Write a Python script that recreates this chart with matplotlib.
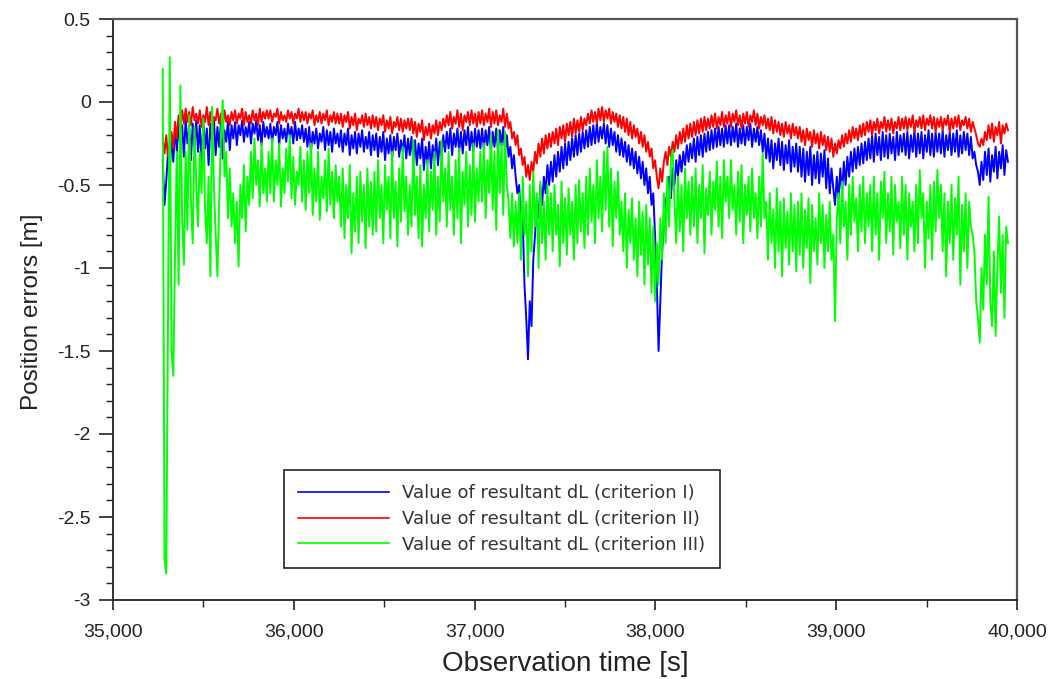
import numpy as np
import matplotlib
matplotlib.use("Agg")
import matplotlib.pyplot as plt
from matplotlib.ticker import MultipleLocator, FuncFormatter

plt.rcParams['font.family'] = ['Liberation Sans', 'DejaVu Sans']
plt.rcParams['axes.unicode_minus'] = False

# observation epochs [s], sampled evenly over the plotted span (20 values per row below)
t_start, t_end, n_pts = 35275, 39950, 480
time_s = np.linspace(t_start, t_end, n_pts)

# criterion I (blue)
dl_crit1 = [
    -0.35, -0.62, -0.48, -0.30, -0.42, -0.20, -0.36, -0.15, -0.30, -0.12, -0.28, -0.14, -0.33, -0.10, -0.25, -0.16, -0.35, -0.13, -0.27, -0.11,
    -0.30, -0.14, -0.36, -0.12, -0.28, -0.16, -0.38, -0.13, -0.25, -0.10, -0.32, -0.15, -0.27, -0.12, -0.34, -0.17, -0.24, -0.11, -0.29, -0.14,
    -0.22, -0.12, -0.26, -0.14, -0.20, -0.11, -0.24, -0.15, -0.21, -0.12, -0.25, -0.13, -0.19, -0.11, -0.23, -0.14, -0.26, -0.12, -0.21, -0.15,
    -0.22, -0.13, -0.25, -0.15, -0.20, -0.12, -0.26, -0.14, -0.22, -0.16, -0.24, -0.13, -0.21, -0.15, -0.25, -0.12, -0.23, -0.16, -0.22, -0.14,
    -0.24, -0.16, -0.27, -0.15, -0.30, -0.18, -0.25, -0.16, -0.28, -0.19, -0.24, -0.15, -0.29, -0.17, -0.26, -0.18, -0.30, -0.16, -0.25, -0.19,
    -0.27, -0.17, -0.30, -0.19, -0.26, -0.16, -0.32, -0.20, -0.28, -0.18, -0.31, -0.19, -0.27, -0.17, -0.30, -0.21, -0.28, -0.18, -0.32, -0.20,
    -0.29, -0.19, -0.33, -0.21, -0.30, -0.18, -0.35, -0.22, -0.31, -0.20, -0.34, -0.21, -0.29, -0.19, -0.33, -0.23, -0.30, -0.20, -0.34, -0.22,
    -0.32, -0.21, -0.36, -0.23, -0.38, -0.25, -0.34, -0.22, -0.41, -0.27, -0.37, -0.24, -0.40, -0.26, -0.35, -0.22, -0.38, -0.24, -0.33, -0.20,
    -0.30, -0.18, -0.28, -0.16, -0.32, -0.19, -0.27, -0.16, -0.30, -0.18, -0.31, -0.17, -0.26, -0.15, -0.29, -0.18, -0.30, -0.16, -0.27, -0.17,
    -0.28, -0.16, -0.29, -0.17, -0.26, -0.15, -0.30, -0.18, -0.27, -0.16, -0.29, -0.17, -0.26, -0.15, -0.30, -0.20, -0.33, -0.27, -0.40, -0.32,
    -0.45, -0.55, -0.50, -0.75, -0.70, -1.10, -1.30, -1.55, -1.20, -1.35, -0.95, -0.80, -0.60, -0.70, -0.50, -0.62, -0.45, -0.55, -0.38, -0.50,
    -0.36, -0.48, -0.32, -0.45, -0.30, -0.42, -0.27, -0.40, -0.25, -0.38, -0.24, -0.35, -0.22, -0.33, -0.20, -0.32, -0.19, -0.30, -0.18, -0.28,
    -0.17, -0.27, -0.15, -0.26, -0.14, -0.25, -0.13, -0.24, -0.15, -0.22, -0.13, -0.25, -0.14, -0.27, -0.16, -0.26, -0.18, -0.30, -0.20, -0.32,
    -0.22, -0.33, -0.24, -0.36, -0.26, -0.38, -0.28, -0.40, -0.30, -0.43, -0.33, -0.46, -0.36, -0.50, -0.40, -0.55, -0.45, -0.62, -0.55, -0.80,
    -1.10, -1.50, -1.20, -0.90, -0.75, -0.60, -0.55, -0.45, -0.58, -0.40, -0.50, -0.35, -0.45, -0.32, -0.42, -0.30, -0.38, -0.26, -0.36, -0.25,
    -0.34, -0.22, -0.36, -0.21, -0.32, -0.20, -0.33, -0.19, -0.30, -0.18, -0.29, -0.17, -0.28, -0.16, -0.27, -0.15, -0.26, -0.16, -0.27, -0.14,
    -0.25, -0.14, -0.26, -0.15, -0.24, -0.13, -0.27, -0.16, -0.25, -0.14, -0.26, -0.15, -0.23, -0.13, -0.27, -0.16, -0.24, -0.15, -0.26, -0.17,
    -0.30, -0.19, -0.34, -0.22, -0.36, -0.23, -0.40, -0.25, -0.35, -0.22, -0.38, -0.24, -0.41, -0.26, -0.37, -0.23, -0.42, -0.27, -0.39, -0.25,
    -0.42, -0.27, -0.45, -0.28, -0.48, -0.30, -0.44, -0.27, -0.50, -0.32, -0.46, -0.30, -0.49, -0.31, -0.45, -0.29, -0.52, -0.34, -0.55, -0.40,
    -0.52, -0.62, -0.45, -0.58, -0.40, -0.55, -0.36, -0.50, -0.33, -0.45, -0.30, -0.42, -0.28, -0.40, -0.27, -0.38, -0.25, -0.37, -0.24, -0.35,
    -0.22, -0.34, -0.20, -0.36, -0.19, -0.32, -0.21, -0.35, -0.18, -0.33, -0.20, -0.34, -0.19, -0.31, -0.21, -0.35, -0.18, -0.32, -0.20, -0.30,
    -0.19, -0.32, -0.18, -0.34, -0.20, -0.30, -0.17, -0.33, -0.19, -0.31, -0.18, -0.34, -0.20, -0.30, -0.17, -0.32, -0.19, -0.33, -0.18, -0.30,
    -0.19, -0.31, -0.17, -0.33, -0.20, -0.29, -0.18, -0.32, -0.19, -0.30, -0.17, -0.33, -0.20, -0.31, -0.18, -0.29, -0.19, -0.32, -0.21, -0.34,
    -0.30, -0.38, -0.42, -0.50, -0.36, -0.47, -0.30, -0.44, -0.28, -0.48, -0.32, -0.42, -0.27, -0.46, -0.30, -0.40, -0.26, -0.44, -0.29, -0.36,
]

# criterion II (red)
dl_crit2 = [
    -0.22, -0.31, -0.20, -0.33, -0.25, -0.18, -0.28, -0.12, -0.22, -0.08, -0.16, -0.05, -0.13, -0.04, -0.12, -0.06, -0.14, -0.03, -0.11, -0.07,
    -0.13, -0.05, -0.15, -0.08, -0.12, -0.03, -0.14, -0.06, -0.16, -0.09, -0.11, -0.04, -0.13, -0.07, -0.15, -0.05, -0.12, -0.08, -0.14, -0.06,
    -0.11, -0.05, -0.13, -0.07, -0.10, -0.04, -0.14, -0.06, -0.12, -0.08, -0.13, -0.05, -0.11, -0.07, -0.14, -0.04, -0.12, -0.06, -0.10, -0.05,
    -0.10, -0.05, -0.12, -0.07, -0.09, -0.04, -0.13, -0.06, -0.11, -0.08, -0.12, -0.05, -0.10, -0.06, -0.13, -0.07, -0.10, -0.04, -0.12, -0.06,
    -0.11, -0.06, -0.13, -0.07, -0.10, -0.05, -0.14, -0.08, -0.12, -0.06, -0.13, -0.07, -0.11, -0.05, -0.14, -0.08, -0.12, -0.06, -0.13, -0.07,
    -0.13, -0.07, -0.15, -0.08, -0.12, -0.06, -0.16, -0.09, -0.14, -0.07, -0.17, -0.10, -0.13, -0.08, -0.15, -0.07, -0.14, -0.09, -0.16, -0.08,
    -0.15, -0.09, -0.17, -0.10, -0.14, -0.08, -0.18, -0.11, -0.16, -0.09, -0.19, -0.12, -0.15, -0.09, -0.17, -0.10, -0.18, -0.11, -0.16, -0.10,
    -0.17, -0.10, -0.19, -0.12, -0.21, -0.13, -0.18, -0.11, -0.23, -0.15, -0.20, -0.13, -0.22, -0.14, -0.19, -0.11, -0.20, -0.12, -0.17, -0.10,
    -0.15, -0.08, -0.14, -0.06, -0.16, -0.09, -0.13, -0.05, -0.15, -0.07, -0.17, -0.08, -0.12, -0.06, -0.14, -0.05, -0.13, -0.07, -0.15, -0.06,
    -0.13, -0.05, -0.14, -0.07, -0.12, -0.04, -0.15, -0.06, -0.13, -0.05, -0.14, -0.08, -0.12, -0.04, -0.15, -0.07, -0.16, -0.12, -0.22, -0.18,
    -0.26, -0.20, -0.32, -0.28, -0.38, -0.33, -0.45, -0.38, -0.47, -0.36, -0.42, -0.30, -0.37, -0.25, -0.33, -0.22, -0.31, -0.20, -0.28, -0.19,
    -0.27, -0.18, -0.25, -0.16, -0.26, -0.15, -0.22, -0.14, -0.24, -0.13, -0.20, -0.12, -0.21, -0.10, -0.19, -0.11, -0.18, -0.09, -0.17, -0.10,
    -0.14, -0.07, -0.13, -0.05, -0.12, -0.06, -0.13, -0.04, -0.11, -0.03, -0.12, -0.05, -0.10, -0.04, -0.13, -0.06, -0.12, -0.07, -0.15, -0.08,
    -0.16, -0.09, -0.18, -0.10, -0.20, -0.12, -0.22, -0.14, -0.21, -0.16, -0.25, -0.18, -0.27, -0.20, -0.30, -0.24, -0.33, -0.28, -0.40, -0.35,
    -0.45, -0.52, -0.40, -0.48, -0.36, -0.30, -0.38, -0.27, -0.33, -0.24, -0.30, -0.20, -0.28, -0.18, -0.25, -0.16, -0.24, -0.14, -0.22, -0.13,
    -0.21, -0.12, -0.20, -0.11, -0.19, -0.10, -0.18, -0.09, -0.17, -0.10, -0.16, -0.08, -0.15, -0.07, -0.16, -0.09, -0.14, -0.06, -0.15, -0.08,
    -0.13, -0.06, -0.15, -0.07, -0.12, -0.05, -0.14, -0.08, -0.16, -0.07, -0.13, -0.06, -0.15, -0.08, -0.12, -0.05, -0.14, -0.07, -0.16, -0.09,
    -0.14, -0.08, -0.16, -0.10, -0.17, -0.09, -0.19, -0.11, -0.18, -0.12, -0.20, -0.13, -0.21, -0.12, -0.19, -0.14, -0.22, -0.13, -0.20, -0.15,
    -0.22, -0.15, -0.24, -0.17, -0.26, -0.16, -0.23, -0.18, -0.27, -0.17, -0.25, -0.19, -0.28, -0.18, -0.26, -0.20, -0.29, -0.21, -0.30, -0.22,
    -0.33, -0.25, -0.31, -0.23, -0.28, -0.20, -0.27, -0.19, -0.25, -0.17, -0.24, -0.15, -0.22, -0.16, -0.23, -0.14, -0.21, -0.13, -0.20, -0.12,
    -0.18, -0.11, -0.20, -0.12, -0.17, -0.10, -0.19, -0.12, -0.16, -0.09, -0.18, -0.11, -0.17, -0.10, -0.19, -0.12, -0.16, -0.09, -0.17, -0.10,
    -0.16, -0.09, -0.17, -0.10, -0.15, -0.08, -0.18, -0.11, -0.15, -0.09, -0.16, -0.08, -0.17, -0.10, -0.14, -0.08, -0.16, -0.09, -0.18, -0.10,
    -0.15, -0.09, -0.17, -0.10, -0.14, -0.08, -0.18, -0.10, -0.16, -0.09, -0.15, -0.08, -0.17, -0.11, -0.14, -0.09, -0.16, -0.10, -0.18, -0.12,
    -0.16, -0.20, -0.25, -0.27, -0.22, -0.26, -0.18, -0.23, -0.14, -0.22, -0.13, -0.24, -0.15, -0.20, -0.12, -0.25, -0.14, -0.19, -0.13, -0.17,
]

# criterion III (green)
dl_crit3 = [
     0.20, -2.75, -2.84, -1.30,  0.27, -1.50, -1.65, -0.90, -0.30, -1.10,  0.10, -0.70, -0.98, -0.30, -0.77, -0.08, -0.60, -0.85, -0.15, -0.50,
    -0.75, -0.30, -0.55, -0.10, -0.65, -0.85, -0.45, -1.05, -0.03, -0.50, -0.80, -1.05, -0.60, -0.20,  0.01, -0.45, -0.30, -0.70, -0.40, -0.75,
    -0.55, -0.85, -0.60, -0.99, -0.50, -0.70, -0.38, -0.78, -0.45, -0.62, -0.30, -0.58, -0.22, -0.50, -0.35, -0.63, -0.25, -0.55, -0.40, -0.60,
    -0.30, -0.55, -0.22, -0.60, -0.35, -0.50, -0.25, -0.63, -0.40, -0.55, -0.28, -0.48, -0.20, -0.58, -0.33, -0.62, -0.42, -0.50, -0.27, -0.60,
    -0.35, -0.65, -0.30, -0.55, -0.25, -0.68, -0.40, -0.60, -0.30, -0.71, -0.45, -0.58, -0.35, -0.66, -0.28, -0.62, -0.42, -0.70, -0.38, -0.60,
    -0.45, -0.75, -0.40, -0.82, -0.50, -0.70, -0.38, -0.91, -0.55, -0.78, -0.45, -0.85, -0.42, -0.72, -0.50, -0.88, -0.40, -0.75, -0.48, -0.80,
    -0.42, -0.78, -0.35, -0.70, -0.50, -0.85, -0.38, -0.65, -0.45, -0.82, -0.30, -0.70, -0.48, -0.87, -0.40, -0.72, -0.27, -0.66, -0.45, -0.80,
    -0.50, -0.75, -0.23, -0.68, -0.45, -0.82, -0.38, -0.87, -0.50, -0.70, -0.35, -0.78, -0.42, -0.65, -0.30, -0.80, -0.45, -0.72, -0.23, -0.60,
    -0.40, -0.75, -0.30, -0.65, -0.45, -0.80, -0.35, -0.70, -0.28, -0.85, -0.42, -0.62, -0.30, -0.75, -0.38, -0.68, -0.25, -0.72, -0.40, -0.60,
    -0.30, -0.60, -0.25, -0.70, -0.35, -0.55, -0.20, -0.65, -0.30, -0.77, -0.17, -0.55, -0.25, -0.68, -0.18, -0.50, -0.60, -0.82, -0.55, -0.87,
    -0.60, -0.85, -0.55, -0.95, -0.45, -0.80, -0.60, -1.05, -0.50, -0.90, -0.42, -0.75, -0.55, -1.00, -0.48, -0.85, -0.60, -0.95, -0.50, -0.80,
    -0.55, -0.90, -0.50, -0.80, -0.62, -0.99, -0.48, -0.85, -0.58, -0.92, -0.52, -0.80, -0.60, -0.95, -0.50, -0.85, -0.47, -0.78, -0.55, -0.88,
    -0.45, -0.80, -0.40, -0.72, -0.50, -0.85, -0.35, -0.70, -0.45, -0.78, -0.30, -0.65, -0.27, -0.75, -0.40, -0.87, -0.48, -0.70, -0.42, -0.80,
    -0.60, -0.90, -0.55, -1.00, -0.65, -0.85, -0.58, -0.95, -0.70, -1.05, -0.60, -0.92, -0.66, -1.10, -0.62, -0.98, -0.70, -1.15, -0.75, -1.20,
    -0.85, -1.10, -0.70, -0.95, -0.55, -0.85, -0.45, -0.75, -0.35, -0.29, -0.60, -0.85, -0.45, -0.78, -0.50, -0.90, -0.40, -0.70, -0.48, -0.80,
    -0.45, -0.75, -0.40, -0.85, -0.50, -0.70, -0.38, -0.91, -0.52, -0.68, -0.42, -0.80, -0.48, -0.65, -0.36, -0.75, -0.45, -0.82, -0.35, -0.60,
    -0.45, -0.70, -0.35, -0.65, -0.50, -0.80, -0.42, -0.72, -0.38, -0.85, -0.50, -0.68, -0.45, -0.78, -0.40, -0.70, -0.55, -0.82, -0.45, -0.75,
    -0.31, -0.70, -0.60, -0.95, -0.55, -0.85, -0.65, -1.00, -0.52, -0.90, -0.60, -1.05, -0.58, -0.88, -0.66, -0.98, -0.55, -0.90, -0.62, -1.02,
    -0.60, -0.92, -0.55, -1.00, -0.65, -0.88, -0.58, -1.09, -0.62, -0.90, -0.70, -0.98, -0.55, -0.85, -0.62, -1.00, -0.68, -0.90, -0.60, -0.95,
    -0.80, -1.32, -0.70, -0.55, -0.85, -0.48, -0.75, -0.60, -0.95, -0.50, -0.80, -0.45, -0.72, -0.58, -0.90, -0.50, -0.78, -0.45, -0.85, -0.55,
    -0.75, -0.50, -0.90, -0.45, -0.80, -0.55, -0.95, -0.48, -0.70, -0.42, -0.85, -0.55, -0.78, -0.45, -0.92, -0.50, -0.72, -0.60, -0.88, -0.45,
    -0.80, -0.50, -0.95, -0.55, -0.75, -0.60, -0.90, -0.50, -0.85, -0.41, -0.70, -0.55, -1.00, -0.60, -0.82, -0.50, -0.95, -0.48, -0.78, -0.41,
    -0.70, -0.50, -0.90, -0.55, -1.05, -0.60, -0.85, -0.50, -0.95, -0.58, -0.80, -0.45, -1.10, -0.62, -0.90, -0.55, -1.00, -0.60, -0.75, -0.80,
    -0.90, -1.20, -1.30, -1.45, -1.00, -1.25, -0.80, -1.10, -0.57, -1.20, -1.35, -0.90, -1.41, -1.00, -0.69, -1.15, -0.80, -1.30, -0.75, -0.85,
]

labels = ["Value of resultant dL (criterion I)",
          "Value of resultant dL (criterion II)",
          "Value of resultant dL (criterion III)"]
colors = ["#0000ff", "#ff0000", "#00ff00"]

fig = plt.figure(figsize=(10.64, 6.79), dpi=100)
ax = fig.add_axes([113 / 1064, 79 / 679, 904 / 1064, 581 / 679])

for vals, lab, col in zip([dl_crit1, dl_crit2, dl_crit3], labels, colors):
    ax.plot(time_s, vals, color=col, lw=1.4, label=lab)

ax.set_xlim(35000, 40000)
ax.set_ylim(-3, 0.5)
ax.xaxis.set_major_locator(MultipleLocator(1000))
ax.xaxis.set_minor_locator(MultipleLocator(500))
ax.yaxis.set_major_locator(MultipleLocator(0.5))
ax.yaxis.set_minor_locator(MultipleLocator(0.1))
ax.xaxis.set_major_formatter(FuncFormatter(lambda v, p: f"{v:,.0f}"))
ax.yaxis.set_major_formatter(FuncFormatter(lambda v, p: f"{v:g}"))

ax.tick_params(axis='y', which='major', direction='out', length=10, width=1.2, labelsize=14, pad=6, colors='#222222')
ax.tick_params(axis='y', which='minor', direction='out', length=5, width=1.0, colors='#222222')
ax.tick_params(axis='x', which='major', direction='out', length=7, width=1.2, labelsize=14, pad=10, colors='#222222')
ax.tick_params(axis='x', which='minor', direction='out', length=5, width=1.0, colors='#222222')

for side in ['left', 'bottom']:
    ax.spines[side].set_color('#222222')
    ax.spines[side].set_linewidth(1.3)
for side in ['top', 'right']:
    ax.spines[side].set_color('#555555')
    ax.spines[side].set_linewidth(1.6)

ax.set_xlabel("Observation time [s]", fontsize=20, color='#222222')
ax.set_ylabel("Position errors [m]", fontsize=17.5, color='#222222')
ax.xaxis.set_label_coords(0.5, -0.088)
ax.yaxis.set_label_coords(-0.077, 0.496)

leg = ax.legend(loc='lower left', bbox_to_anchor=(0.189, 0.055), borderaxespad=0,
                prop={'family': ['DejaVu Sans'], 'size': 13},
                handlelength=5.0, handletextpad=0.75, labelspacing=0.42,
                fancybox=False, framealpha=1, edgecolor='#222222', borderpad=0.8)
leg.get_frame().set_linewidth(1.2)
for line in leg.get_lines():
    line.set_linewidth(1.2)
for t in leg.get_texts():
    t.set_color('#333333')

fig.savefig("out.png", dpi=100)
